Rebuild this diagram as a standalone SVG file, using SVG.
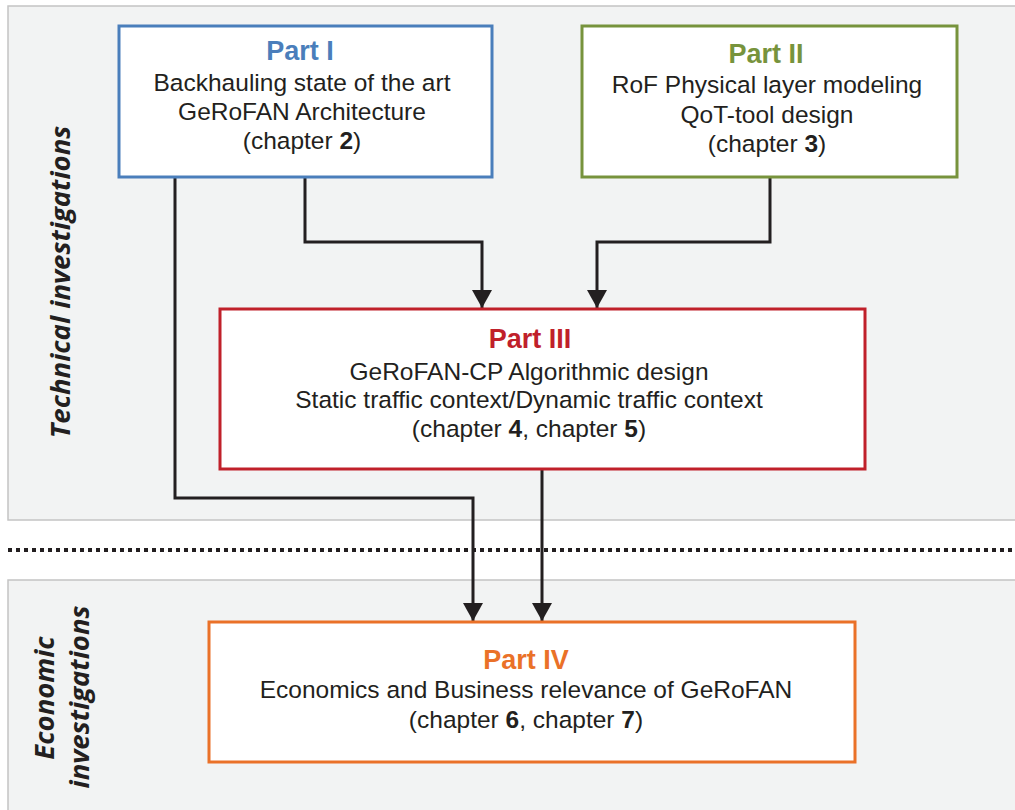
<svg xmlns="http://www.w3.org/2000/svg" width="1015" height="810" viewBox="0 0 1015 810">
<style>
.panel{fill:#F2F3F3;stroke:#C4C4C4;stroke-width:1.5}
.box{fill:#FFFFFF;stroke-width:3}
.t{font-family:"Liberation Sans",Arial,sans-serif;text-anchor:middle}
.title{font-size:27px;font-weight:bold}
.body{font-size:24.5px;fill:#231F20}
.side{font-family:"Open Sans","DejaVu Sans",sans-serif;font-size:27.5px;font-weight:bold;font-style:italic;fill:#231F20;text-anchor:middle}
.conn{fill:none;stroke:#231F20;stroke-width:3}
</style>
<defs>
<marker id="arr" markerUnits="userSpaceOnUse" markerWidth="22" markerHeight="20" refX="18" refY="10" orient="auto" viewBox="0 0 22 20">
<path d="M0,0 L18,10 L0,20 Z" fill="#231F20"/>
</marker>
</defs>
<g id="panels">
<rect class="panel" x="8" y="6" width="1020" height="514"/>
<rect class="panel" x="8" y="580" width="1020" height="240"/>
<line x1="8" y1="550" x2="1015" y2="550" stroke="#231F20" stroke-width="4" stroke-dasharray="4 4"/>
<text class="side" transform="translate(70,282) rotate(-90)">Technical investigations</text>
<text class="side" transform="translate(54,698) rotate(-90)">Economic</text>
<text class="side" transform="translate(89,697) rotate(-90)">investigations</text>
</g>
<g id="connectors">
<path class="conn" d="M175,177 V498 H473 V621" marker-end="url(#arr)"/>
<path class="conn" d="M305,177 V242 H482 V308" marker-end="url(#arr)"/>
<path class="conn" d="M770,177 V242 H597 V308" marker-end="url(#arr)"/>
<path class="conn" d="M542,469 V621" marker-end="url(#arr)"/>
</g>
<g id="part1">
<rect class="box" x="119" y="26" width="373" height="151" stroke="#4A7EBB"/>
<text class="t title" x="300" y="60" fill="#4A7EBB">Part I</text>
<text class="t body" x="302" y="91">Backhauling state of the art</text>
<text class="t body" x="302" y="120">GeRoFAN Architecture</text>
<text class="t body" x="302" y="149">(chapter <tspan font-weight="bold">2</tspan>)</text>
</g>
<g id="part2">
<rect class="box" x="582" y="26" width="375" height="151" stroke="#77933C"/>
<text class="t title" x="766" y="63" fill="#77933C">Part II</text>
<text class="t body" x="767" y="93">RoF Physical layer modeling</text>
<text class="t body" x="767" y="123">QoT-tool design</text>
<text class="t body" x="767" y="152">(chapter <tspan font-weight="bold">3</tspan>)</text>
</g>
<g id="part3">
<rect class="box" x="220" y="309" width="645" height="160" stroke="#C0202A"/>
<text class="t title" x="530" y="348" fill="#C0202A">Part III</text>
<text class="t body" x="529" y="380">GeRoFAN-CP Algorithmic design</text>
<text class="t body" x="529" y="408">Static traffic context/Dynamic traffic context</text>
<text class="t body" x="529" y="437">(chapter <tspan font-weight="bold">4</tspan>, chapter <tspan font-weight="bold">5</tspan>)</text>
</g>
<g id="part4">
<rect class="box" x="209" y="622" width="646" height="140" stroke="#EA7128"/>
<text class="t title" x="526" y="669" fill="#EA7128">Part IV</text>
<text class="t body" x="526" y="698">Economics and Business relevance of GeRoFAN</text>
<text class="t body" x="526" y="728">(chapter <tspan font-weight="bold">6</tspan>, chapter <tspan font-weight="bold">7</tspan>)</text>
</g>
</svg>
